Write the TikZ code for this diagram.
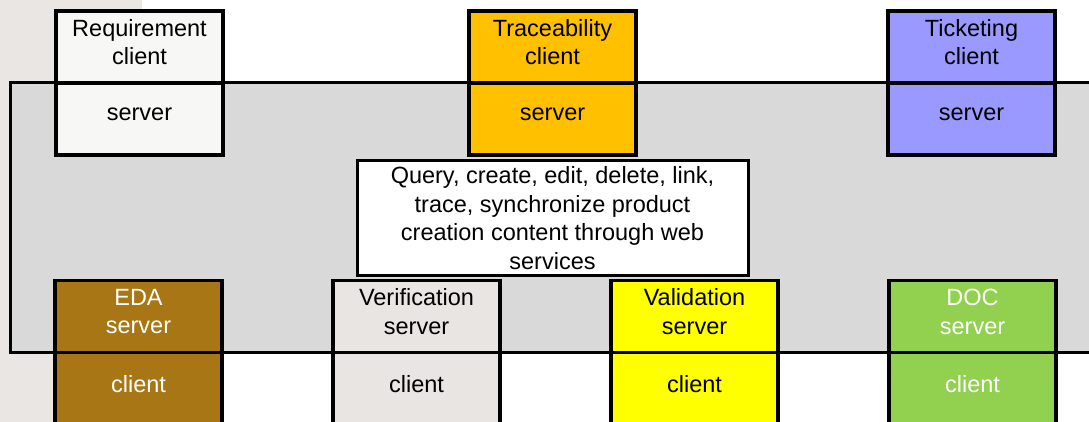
\documentclass[tikz,border=0pt]{standalone}
\usepackage{fontspec}
\setmainfont{Liberation Sans}
\definecolor{stripgray}{HTML}{E9E6E4}
\definecolor{busgray}{HTML}{D9D9D9}
\definecolor{reqwhite}{HTML}{F7F7F5}
\definecolor{traceorange}{HTML}{FFC000}
\definecolor{ticketblue}{HTML}{9999FF}
\definecolor{edabrown}{HTML}{A87614}
\definecolor{verifgray}{HTML}{E8E5E3}
\definecolor{validyellow}{HTML}{FFFF00}
\definecolor{docgreen}{HTML}{92D050}
\tikzset{
  half/.style={draw=black, line width=3.2pt, minimum width=167pt, minimum height=72pt,
    inner sep=0pt, align=center, text depth=10pt, font=\fontsize{23.5}{28.7}\selectfont},
  lighttext/.style={text=white}
}
\begin{document}
\begin{tikzpicture}[x=1pt, y=-1pt]
		\useasboundingbox (0,0) rectangle (1089,422);
		\clip (0,0) rectangle (1089,422);
		
		% Slide background
		\fill[stripgray] (0,0) rectangle (142,422);
		
		% Shared web service area
		\draw[line width=3pt, fill=busgray] (10,83) rectangle (1100,352);
		
		% Clients on top, servers inside
		\node[half, fill=reqwhite] (reqc) at (139.5,47) {Requirement\\client};
		\node[half, fill=reqwhite] (reqs) at (139.5,119) {server};
		\node[half, fill=traceorange] (trc) at (552.5,47) {Traceability\\client};
		\node[half, fill=traceorange] (trs) at (552.5,119) {server};
		\node[half, fill=ticketblue] (tkc) at (971.5,47) {Ticketing\\client};
		\node[half, fill=ticketblue] (tks) at (971.5,119) {server};
		
		% Web service description
		\node[draw=black, line width=3pt, fill=white, minimum width=391pt, minimum height=114pt,
		  inner sep=0pt, align=center, font=\fontsize{23.5}{28.7}\selectfont] (ws) at (552.5,218)
		  {Query, create, edit, delete, link,\\trace, synchronize product\\creation content through web\\services};
		
		% Servers inside, clients below
		\node[half, fill=edabrown, lighttext] (edas) at (138.5,316.5) {EDA\\server};
		\node[half, fill=edabrown, lighttext] (edac) at (138.5,388.5) {client};
		\node[half, fill=verifgray] (vers) at (416.5,316.5) {Verification\\server};
		\node[half, fill=verifgray] (verc) at (416.5,388.5) {client};
		\node[half, fill=validyellow] (vals) at (694.5,316.5) {Validation\\server};
		\node[half, fill=validyellow] (valc) at (694.5,388.5) {client};
		\node[half, fill=docgreen, lighttext] (docs) at (972.5,316.5) {DOC\\server};
		\node[half, fill=docgreen, lighttext] (docc) at (972.5,388.5) {client};
		
	\end{tikzpicture}
\end{document}
